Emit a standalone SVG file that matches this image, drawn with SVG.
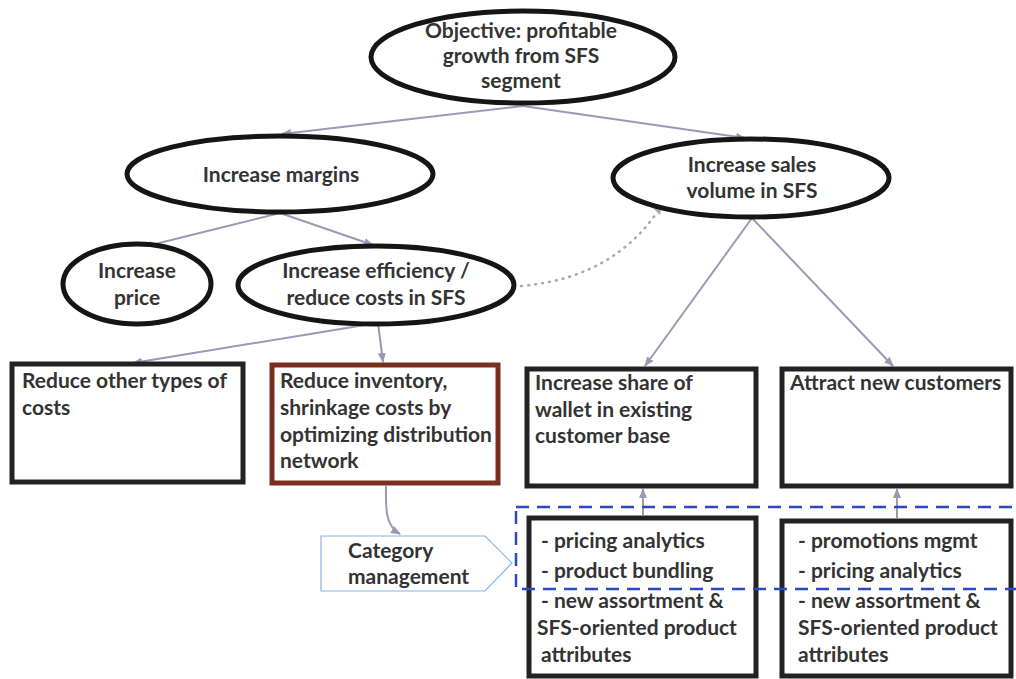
<svg xmlns="http://www.w3.org/2000/svg" width="1016" height="679" viewBox="0 0 1016 679">
  <defs>
    <marker id="arr" viewBox="0 0 10 10" refX="9" refY="5" markerWidth="10" markerHeight="10" markerUnits="userSpaceOnUse" orient="auto">
      <path d="M0,1 L10,5 L0,9 z" fill="#9a9ab4"/>
    </marker>
    <style>
      .oval { fill: #fff; stroke: #151515; stroke-width: 5; }
      .box { fill: #fff; stroke: #222; stroke-width: 5; }
      .box-red { fill: #fff; stroke: #7c2e1e; stroke-width: 5; }
      .link { fill: none; stroke: #9a9ab4; stroke-width: 2; marker-end: url(#arr); }
      .dotted { fill: none; stroke: #a8a8b8; stroke-width: 2.5; stroke-dasharray: 1 6; stroke-linecap: round; }
      .group { fill: none; stroke: #2a48c0; stroke-width: 2.5; stroke-dasharray: 13 8; }
      .tag { fill: #fff; stroke: #8ab2e6; stroke-width: 1.2; }
      text { font-family: Lato, "Liberation Sans", sans-serif; font-weight: bold; font-size: 21px; fill: #333; }
      .c { text-anchor: middle; }
    </style>
  </defs>

  <!-- connectors -->
  <g id="connectors">
    <line class="link" x1="523" y1="106" x2="282" y2="134"/>
    <line class="link" x1="523" y1="106" x2="745" y2="138"/>
    <line class="link" x1="280" y1="213" x2="143" y2="247"/>
    <line class="link" x1="280" y1="213" x2="373" y2="245"/>
    <line class="link" x1="377" y1="323" x2="133" y2="363"/>
    <line class="link" x1="378" y1="323" x2="383" y2="362"/>
    <line class="link" x1="752" y1="218" x2="645" y2="366"/>
    <line class="link" x1="752" y1="218" x2="893" y2="366"/>
    <line class="link" x1="643" y1="515" x2="643" y2="489"/>
    <line class="link" x1="897" y1="518" x2="897" y2="489"/>
    <path class="link" d="M386,486 C386,505 384,525 400,534"/>
    <path class="dotted" d="M521,286 C590,280 630,250 656,214"/>
    <path d="M653,208 L662,206 L660,215 z" fill="#a8a8b8"/>
  </g>

  <g id="objective">
    <ellipse class="oval" cx="523" cy="57" rx="152" ry="46"/>
    <text class="c" x="521" y="38">Objective: profitable</text>
    <text class="c" x="521" y="63">growth from SFS</text>
    <text class="c" x="521" y="88">segment</text>
  </g>

  <g id="increase-margins">
    <ellipse class="oval" cx="280" cy="174" rx="153" ry="38"/>
    <text class="c" x="281" y="182">Increase margins</text>
  </g>

  <g id="increase-sales">
    <ellipse class="oval" cx="751" cy="178" rx="138" ry="39"/>
    <text class="c" x="752" y="172">Increase sales</text>
    <text class="c" x="752" y="198">volume in SFS</text>
  </g>

  <g id="increase-price">
    <ellipse class="oval" cx="137" cy="284" rx="74" ry="40"/>
    <text class="c" x="137" y="278">Increase</text>
    <text class="c" x="137" y="305">price</text>
  </g>

  <g id="increase-efficiency">
    <ellipse class="oval" cx="376" cy="285" rx="138" ry="39"/>
    <text class="c" x="376" y="278">Increase efficiency /</text>
    <text class="c" x="376" y="305">reduce costs in SFS</text>
  </g>

  <g id="reduce-other">
    <rect class="box" x="12" y="364" width="231" height="118"/>
    <text x="22" y="388">Reduce other types of</text>
    <text x="22" y="415">costs</text>
  </g>

  <g id="reduce-inventory">
    <rect class="box-red" x="272" y="365" width="226" height="118"/>
    <text x="280" y="388">Reduce inventory,</text>
    <text x="280" y="415">shrinkage costs by</text>
    <text x="280" y="442">optimizing distribution</text>
    <text x="280" y="468">network</text>
  </g>

  <g id="increase-share">
    <rect class="box" x="527" y="369" width="229" height="117"/>
    <text x="535" y="390">Increase share of</text>
    <text x="535" y="417">wallet in existing</text>
    <text x="535" y="443">customer base</text>
  </g>

  <g id="attract-customers">
    <rect class="box" x="782" y="369" width="229" height="117"/>
    <text x="790" y="390">Attract new customers</text>
  </g>

  <g id="category-management">
    <polygon class="tag" points="321,536 485,536 512,563 485,591 321,591"/>
    <text x="348" y="558">Category</text>
    <text x="348" y="584">management</text>
  </g>

  <g id="levers-share">
    <rect class="box" x="529" y="518" width="227" height="158"/>
    <text x="541" y="548">- pricing analytics</text>
    <text x="541" y="578">- product bundling</text>
    <text x="541" y="608">- new assortment &amp;</text>
    <text x="537" y="635">SFS-oriented product</text>
    <text x="541" y="662">attributes</text>
  </g>

  <g id="levers-new">
    <rect class="box" x="782" y="521" width="229" height="155"/>
    <text x="798" y="548">- promotions mgmt</text>
    <text x="798" y="578">- pricing analytics</text>
    <text x="798" y="608">- new assortment &amp;</text>
    <text x="798" y="635">SFS-oriented product</text>
    <text x="798" y="662">attributes</text>
  </g>

  <g id="analytics-group">
    <rect class="group" x="516" y="507" width="504" height="82"/>
  </g>
</svg>
